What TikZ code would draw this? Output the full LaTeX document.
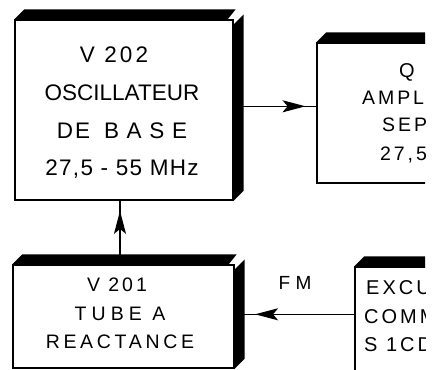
\documentclass[tikz,border=0pt]{standalone}
\usepackage{fontspec}
\setmainfont{Liberation Sans}
\usetikzlibrary{calc,arrows.meta,decorations.markings}
\newcommand{\lsp}[2]{{\addfontfeatures{LetterSpace=#1}#2}}
\begin{document}
\begin{tikzpicture}[x=1pt,y=-1pt,
  face/.style={draw, line width=1.4pt, inner sep=0pt, rectangle},
  blk/.style={fill=black},
  conn/.style={line width=1.5pt},
  txt/.style={inner sep=0pt, align=center},
  frag/.style={inner sep=0pt, anchor=west},
  midarr/.style={postaction=decorate, decoration={markings,
     mark=at position #1 with {\arrow{Stealth[length=23pt,width=12pt,inset=5pt]}}}}]
\useasboundingbox (0,0) rectangle (438,369);
\begin{scope}
\clip (0,0) rectangle (425,369);
% box 1
\node[face, minimum width=218pt, minimum height=180pt] (b1) at (124,110) {};
\fill[blk] (b1.north west) -- ++(10,-10) -- ($(b1.north east)+(2,-10)$) -- ($(b1.north east)+(-6,0)$) -- cycle;
\fill[blk] ($(b1.north east)+(0,5)$) -- ++(10,-10) -- ($(b1.south east)+(10,-10)$) -- (b1.south east) -- cycle;
\node[txt, font=\fontsize{22.5}{37.7}\selectfont] (t1) at (122,113)
  {\lsp{14}{V 202}\hspace*{16pt}\\OSCILLATEUR\\\lsp{8}{DE}\hspace{14pt}\lsp{34}{BASE}\\\lsp{6}{27,5 - 55 MHz}};
% box 2
\node[face, minimum width=200pt, minimum height=140pt] (b2) at (417,113) {};
\fill[blk] (b2.north west) -- ++(10,-10) -- ($(b2.north east)+(2,-10)$) -- ($(b2.north east)+(-6,0)$) -- cycle;
\node[inner sep=0pt, font=\fontsize{20}{22}\selectfont] (q2) at (407,72) {Q};
\node[frag, font=\fontsize{19.5}{22}\selectfont] (a2) at (362,98) {\lsp{15}{AMPL}};
\node[frag, font=\fontsize{19.5}{22}\selectfont] (s2) at (382,125) {\lsp{15}{SEP}};
\node[frag, font=\fontsize{19.5}{22}\selectfont] (f2) at (380,155) {\lsp{15}{27,5}};
% box 3
\node[face, minimum width=221pt, minimum height=103pt] (b3) at (123.5,316.5) {};
\fill[blk] (b3.north west) -- ++(10,-10) -- ($(b3.north east)+(2,-10)$) -- ($(b3.north east)+(-6,0)$) -- cycle;
\fill[blk] ($(b3.north east)+(0,5)$) -- ++(10,-10) -- ($(b3.south east)+(10,-10)$) -- (b3.south east) -- cycle;
\node[txt, font=\fontsize{19.5}{28.5}\selectfont] (t3) at (120,313.5)
  {\lsp{15}{V 201}\hspace*{6pt}\\\lsp{26}{TUBE A}\\\lsp{19}{REACTANCE}};
% box 4
\node[face, minimum width=200pt, minimum height=130pt] (b4) at (455,332) {};
\fill[blk] (b4.north west) -- ++(10,-10) -- ($(b4.north east)+(2,-10)$) -- ($(b4.north east)+(-6,0)$) -- cycle;
\node[frag, font=\fontsize{20}{22}\selectfont] (e4) at (366,288) {\lsp{15}{EXCU}};
\node[frag, font=\fontsize{20}{22}\selectfont] (c4) at (364,317) {\lsp{15}{COMM}};
\node[frag, font=\fontsize{20}{22}\selectfont] (d4) at (364,345) {\lsp{15}{S 1CD}};
% connectors
\coordinate (p2) at ($(b2.north west)+(0,64)$);
\draw[conn, midarr=0.87] (p2 -| b1.east) -- (p2);
\coordinate (p3) at ($(b3.north)+(-3.5,0)$);
\draw[conn, midarr=0.84] (p3) -- (p3 |- b1.south);
\coordinate (p4) at ($(b4.north west)+(0,48)$);
\draw[conn, midarr=0.83] (p4) -- (p4 -| b3.east);
\node[inner sep=0pt, font=\fontsize{19}{20}\selectfont] (fm) at (295,283) {\lsp{28}{FM}};
\end{scope}
\end{tikzpicture}
\end{document}
